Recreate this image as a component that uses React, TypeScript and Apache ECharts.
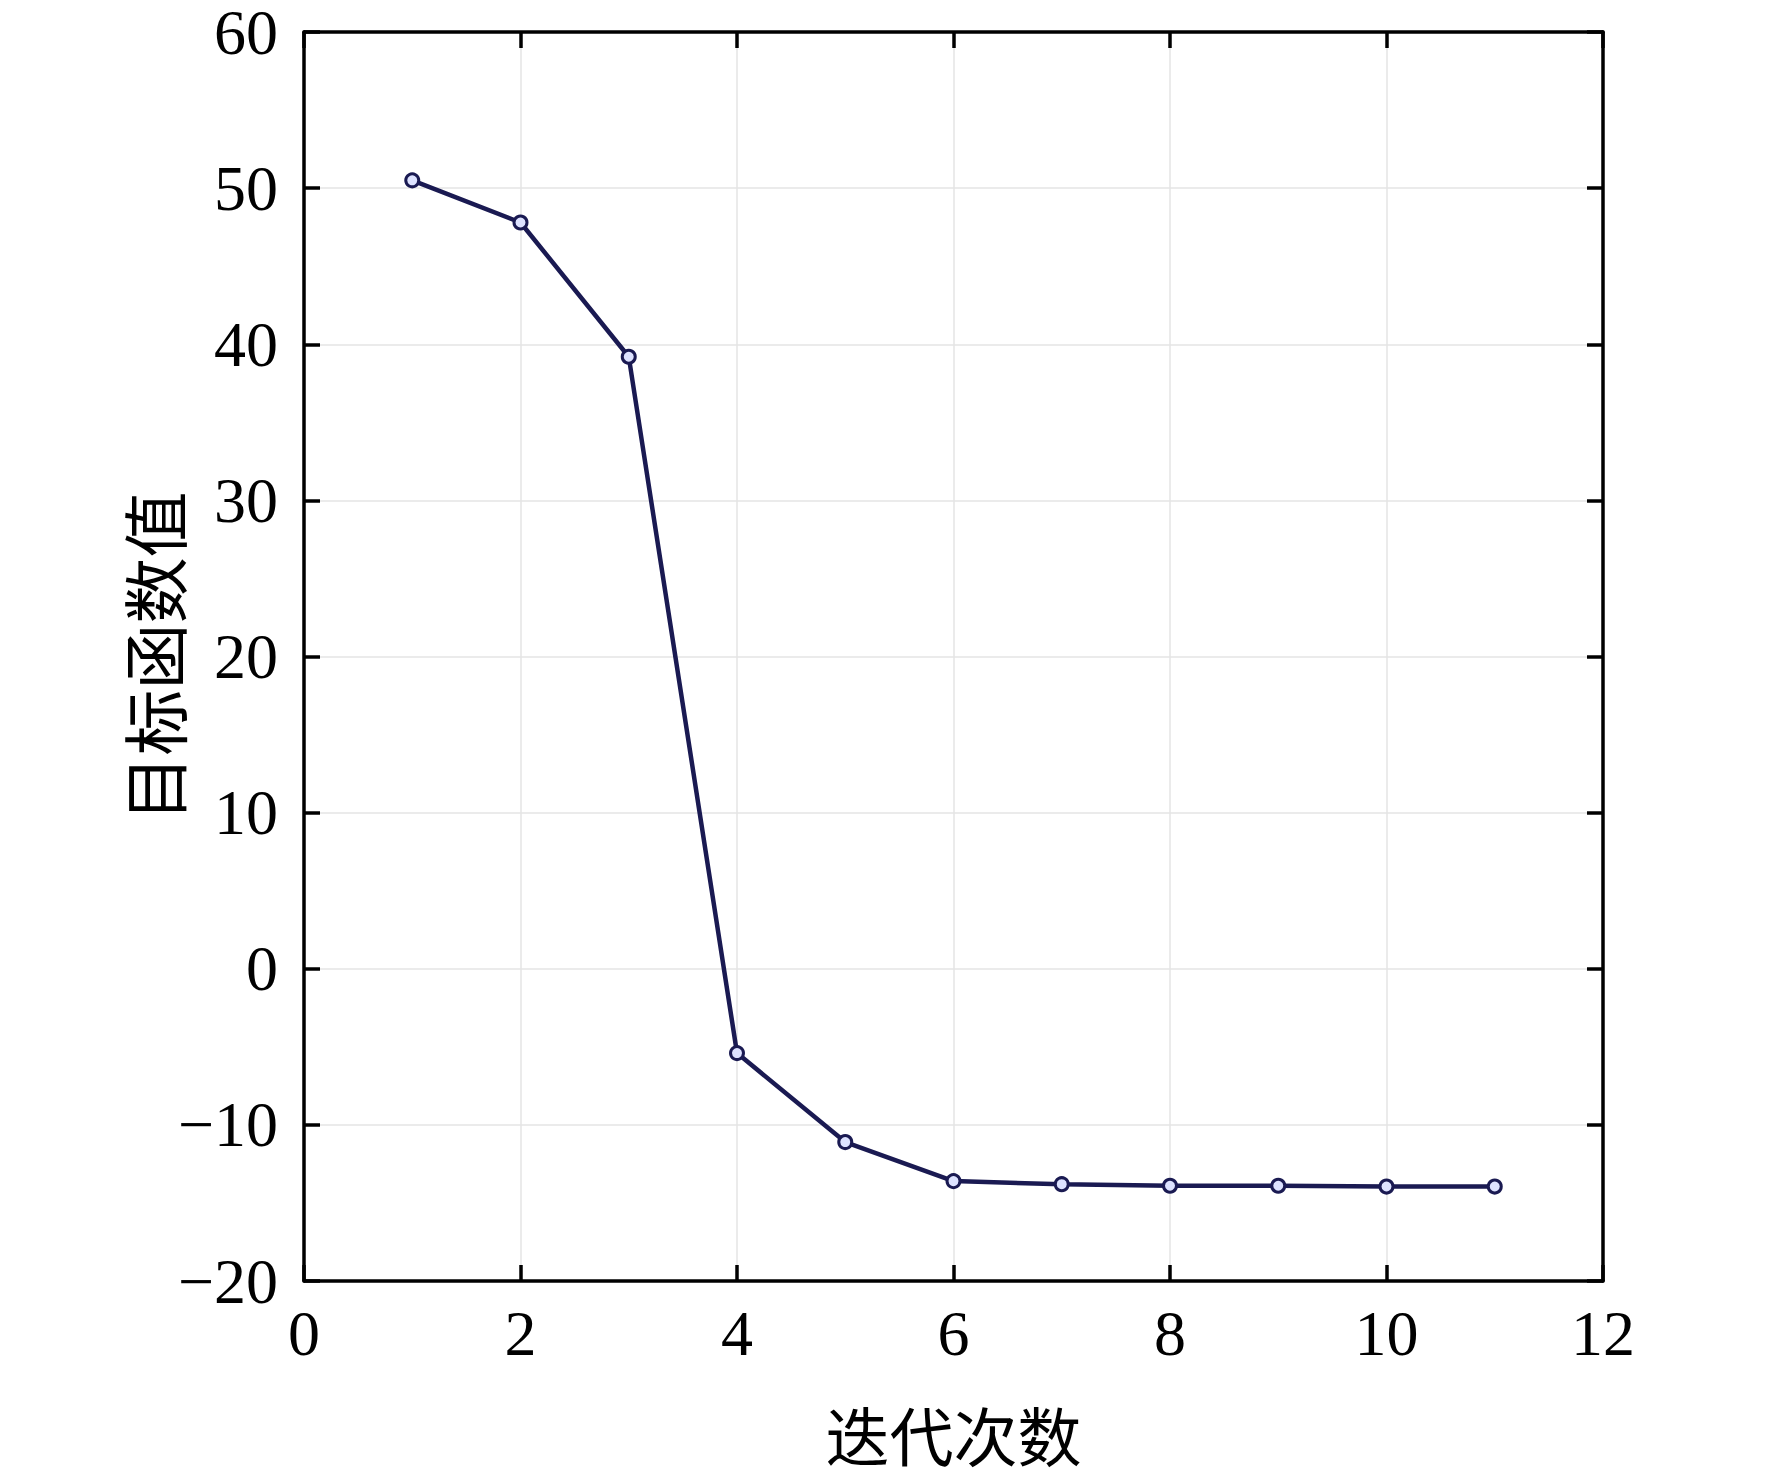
import React, { useEffect, useRef } from "react";
import * as echarts from "echarts";

const iterations = [1, 2, 3, 4, 5, 6, 7, 8, 9, 10, 11];
const objectiveValues = [50.5, 47.8, 39.2, -5.4, -11.1, -13.6, -13.8, -13.9, -13.9, -13.95, -13.95];
const xTitle = "迭代次数";
const yTitle = "目标函数值";

const serif = "Liberation Serif";
const cjk = "Noto Sans CJK SC";

export default function App() {
  const ref = useRef<HTMLDivElement>(null);
  useEffect(() => {
    if (!ref.current) return;
    const chart = echarts.init(ref.current, undefined, { renderer: "svg" });
    const axisLine = { show: true, onZero: false, lineStyle: { color: "#000", width: 3.5 } };
    const tick = { show: true, inside: true, length: 16, lineStyle: { color: "#000", width: 3.5 } };
    const split = { show: true, lineStyle: { color: "#e4e4e4", width: 1.5 } };
    const fmt = (v: number) => String(v).replace("-", "\u2212");
    chart.setOption({
      animation: false,
      backgroundColor: "#fff",
      grid: { left: 304, right: 169, top: 32, bottom: 199 },
      xAxis: [
        {
          type: "value",
          min: 0,
          max: 12,
          interval: 2,
          position: "bottom",
          axisLine,
          axisTick: tick,
          splitLine: split,
          axisLabel: { fontFamily: serif, fontSize: 64, color: "#000", margin: 20, formatter: fmt },
          name: xTitle,
          nameLocation: "middle",
          nameGap: 120,
          nameMoveOverlap: false,
          nameTextStyle: { fontFamily: cjk, fontSize: 64, color: "#000" },
        },
        {
          type: "value",
          min: 0,
          max: 12,
          interval: 2,
          position: "top",
          axisLine,
          axisTick: tick,
          splitLine: { show: false },
          axisLabel: { show: false },
        },
      ],
      yAxis: [
        {
          type: "value",
          min: -20,
          max: 60,
          interval: 10,
          position: "left",
          axisLine,
          axisTick: tick,
          splitLine: split,
          axisLabel: {
            fontFamily: serif,
            fontSize: 64,
            color: "#000",
            margin: 26,
            formatter: fmt,
          },
          name: yTitle,
          nameLocation: "middle",
          nameGap: 119,
          nameMoveOverlap: false,
          nameRotate: 90,
          nameTextStyle: { fontFamily: cjk, fontSize: 66, color: "#000" },
        },
        {
          type: "value",
          min: -20,
          max: 60,
          interval: 10,
          position: "right",
          axisLine,
          axisTick: tick,
          splitLine: { show: false },
          axisLabel: { show: false },
        },
      ],
      series: [
        {
          type: "line",
          xAxisIndex: 0,
          yAxisIndex: 0,
          data: iterations.map((x, i) => [x, objectiveValues[i]]),
          symbol: "circle",
          symbolSize: 13,
          lineStyle: { color: "#1a1a52", width: 4.5 },
          itemStyle: { color: "#dde2ff", borderColor: "#1a1a52", borderWidth: 3 },
        },
      ],
    });
    return () => chart.dispose();
  }, []);
  return (
    <div
      ref={ref}
      style={{ position: "absolute", left: 0, top: 0, width: 1772, height: 1480 }}
    />
  );
}
